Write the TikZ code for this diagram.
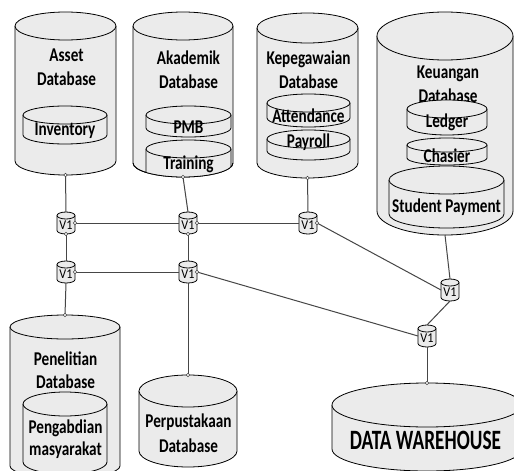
\documentclass[tikz,border=0pt]{standalone}
\usepackage{fontspec}
\newfontfamily\lblfont[FakeStretch=0.78]{Carlito}
\newfontfamily\dwfont[FakeStretch=0.69]{Carlito}
\newfontfamily\vfont[FakeStretch=0.9]{Carlito}
\definecolor{dbfill}{RGB}{235,235,235}
\definecolor{linkgray}{RGB}{70,70,70}

% database cylinder: name, left, right, top, bottom, rim half-height
\newcommand\dbshape[6]{%
  \pgfmathsetmacro\dbcx{(#2+#3)/2}%
  \pgfmathsetmacro\dbrx{(#3-#2)/2}%
  \pgfmathsetmacro\dbyt{#4+#6}%
  \pgfmathsetmacro\dbyb{#5-#6}%
  \pgfmathsetmacro\dbcy{(#4+#5)/2}%
  \pgfmathsetmacro\dbw{#3-#2}%
  \pgfmathsetmacro\dbh{#5-#4}%
  \fill[dbfill] (#2,\dbyt) -- (#2,\dbyb) arc[start angle=180,end angle=360,x radius=\dbrx pt,y radius=#6 pt] -- (#3,\dbyt) -- cycle;
  \draw[dbline] (#2,\dbyt) -- (#2,\dbyb) arc[start angle=180,end angle=360,x radius=\dbrx pt,y radius=#6 pt] -- (#3,\dbyt);
  \filldraw[dbline,fill=dbfill] (\dbcx,\dbyt) ellipse[x radius=\dbrx pt,y radius=#6 pt];
  \node[inner sep=0pt,outer sep=0pt,minimum width=\dbw pt,minimum height=\dbh pt] (#1) at (\dbcx,\dbcy) {};
}
% small view cylinder labelled V1: name, centre x, centre y
\newcommand\vone[3]{%
  \pgfmathsetmacro\vL{#2-9}%
  \pgfmathsetmacro\vR{#2+9}%
  \pgfmathsetmacro\vT{#3-11}%
  \pgfmathsetmacro\vB{#3+11}%
  \dbshape{#1}{\vL}{\vR}{\vT}{\vB}{3.5}%
  \node[vlbl,anchor=base] (#1txt) at (#2,#3+6) {V1};
}

\begin{document}
\begin{tikzpicture}[x=1pt,y=-1pt,
  dbline/.style={draw=black,line width=0.8pt},
  link/.style={draw=linkgray,line width=1pt},
  port/.style={draw=linkgray,fill=white,line width=0.6pt},
  lbl/.style={font=\lblfont\bfseries\fontsize{19.5}{22}\selectfont,inner sep=0pt},
  dwlbl/.style={font=\dwfont\bfseries\fontsize{28}{30}\selectfont,inner sep=0pt},
  vlbl/.style={font=\vfont\fontsize{13.5}{15}\selectfont,inner sep=0pt}]
\useasboundingbox (0,0) rectangle (514,471);
\fill[white] (0,0) rectangle (514,471);
\clip (0,0) rectangle (514,471);

% ---- Asset ----
\dbshape{asset}{15}{116}{12}{175}{14}
\node[lbl,anchor=base] (assetA) at (66.5,61) {Asset};
\node[lbl,anchor=base] (assetB) at (66.5,85) {Database};
\dbshape{inventory}{23}{107}{106}{144}{9}
\node[lbl,anchor=base] (inventoryT) at (65,135) {Inventory};

% ---- Akademik ----
\dbshape{akad}{133}{233}{12}{177}{14}
\node[lbl,anchor=base] (akadA) at (188.5,64) {Akademik};
\node[lbl,anchor=base] (akadB) at (188.5,88) {Database};
\dbshape{pmb}{146}{231}{106}{137}{9}
\node[lbl,anchor=base] (pmbT) at (188.5,133) {PMB};
\begin{scope}
  \clip (133,26) -- (133,163) arc[start angle=180,end angle=360,x radius=50pt,y radius=14pt] -- (233,26) -- cycle;
  \dbshape{training}{146}{231}{140}{186}{9}
  \node[lbl,anchor=base] (trainingT) at (188.5,169) {Training};
\end{scope}
\draw[dbline] (133,163) arc[start angle=180,end angle=360,x radius=50pt,y radius=14pt];

% ---- Kepegawaian ----
\dbshape{kepeg}{257}{358}{13}{178}{15}
\node[lbl,anchor=base] (kepegA) at (308.5,64) {Kepegawaian};
\node[lbl,anchor=base] (kepegB) at (308.5,88) {Database};
\dbshape{attend}{267}{350}{94}{127}{9}
\node[lbl,anchor=base] (attendT) at (308.5,122) {Attendance};
\dbshape{payroll}{267}{350}{130}{160}{9}
\node[lbl,anchor=base] (payrollT) at (308.5,147) {Payroll};

% ---- Keuangan ----
\dbshape{keu}{377}{513}{12}{235}{24}
\node[lbl,anchor=base] (keuA) at (448,78) {Keuangan};
\node[lbl,anchor=base] (keuB) at (448,102) {Database};
\dbshape{ledger}{407}{487}{100}{135}{9}
\node[lbl,anchor=base] (ledgerT) at (447,127) {Ledger};
\dbshape{chasier}{407}{487}{138}{165}{7}
\node[lbl,anchor=base] (chasierT) at (447,162) {Chasier};
\dbshape{studpay}{389}{504}{166}{228}{14}
\node[lbl,anchor=base] (studpayT) at (446.5,212) {Student Payment};

% ---- Penelitian ----
\dbshape{penel}{10}{120}{315}{478}{12}
\node[lbl,anchor=base] (penelA) at (65.5,365) {Penelitian};
\node[lbl,anchor=base] (penelB) at (65.5,388) {Database};
\dbshape{pengab}{23}{107}{392}{474}{12}
\node[lbl,anchor=base] (pengabA) at (65.5,433) {Pengabdian};
\node[lbl,anchor=base] (pengabB) at (65.5,455) {masyarakat};

% ---- Perpustakaan ----
\dbshape{perp}{139}{237}{375}{467}{16}
\node[lbl,anchor=base] (perpA) at (188.5,427) {Perpustakaan};
\node[lbl,anchor=base] (perpB) at (188.5,452) {Database};

% ---- Data warehouse ----
\dbshape{dw}{332}{522}{383}{471}{22}
\node[dwlbl,anchor=base] (dwT) at (425.5,449) {DATA WAREHOUSE};

% ---- V1 views ----
\vone{va}{66}{223}
\vone{vb}{188}{223}
\vone{vc}{66}{272}
\vone{vd}{188}{272}
\vone{ve}{308}{223}
\vone{vf}{450}{290}
\vone{vg}{427}{336}

% ---- connectors ----
\draw[link] (asset.south) -- (va.north);
\draw[link] (akad.south) -- (vb.north);
\draw[link] (kepeg.south) -- (ve.north);
\draw[link] (keu.south) -- (vf.north);
\draw[link] (va.east) -- (vb.west);
\draw[link] (vb.east) -- (ve.west);
\draw[link] (va.south) -- (vc.north);
\draw[link] (vb.south) -- (vd.north);
\draw[link] (vc.east) -- (vd.west);
\draw[link] (vc.south) -- (penel.north);
\draw[link] (vd.south) -- (perp.north);
\draw[link] (vd.east) -- (vg.west);
\draw[link] (ve.east) -- (vf.west);
\draw[link] (vf.south) -- (vg.north);
\draw[link] (vg.south) -- (dw.north);

% ---- connection ports ----
\foreach \p in {va.east,va.south,vb.east,vb.south,vc.east,vd.east,ve.east,
                asset.south,akad.south,kepeg.south,penel.north,perp.north,dw.north}
  \draw[port] (\p) circle[radius=1.7pt];
\end{tikzpicture}
\end{document}
